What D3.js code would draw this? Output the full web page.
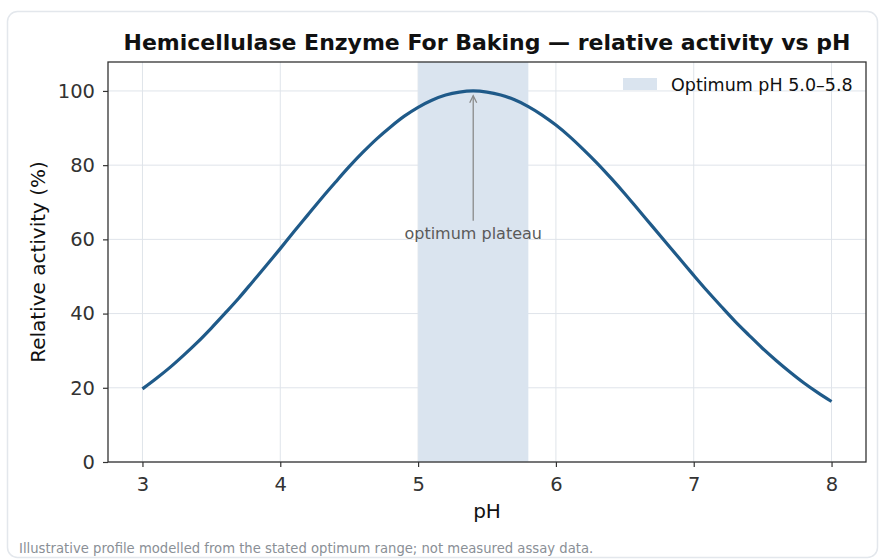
<!DOCTYPE html>
<html lang="en">
<head>
    <meta charset="UTF-8">
    <title>Hemicellulase pH profile</title>
    <script src="https://d3js.org/d3.v7.min.js"></script>
    <style>
        body { margin: 0; background: #ffffff; }
        svg { display: block; font-family: "DejaVu Sans", sans-serif; }
    </style>
</head>
<body>
<svg width="879" height="559"></svg>

<script>
    // pH readings and relative activity (%)
    const phValues = [3.0, 3.1, 3.2, 3.3, 3.4, 3.5, 3.6, 3.7, 3.8, 3.9,
                      4.0, 4.1, 4.2, 4.3, 4.4, 4.5, 4.6, 4.7, 4.8, 4.9,
                      5.0, 5.1, 5.2, 5.3, 5.4, 5.5, 5.6, 5.7, 5.8, 5.9,
                      6.0, 6.1, 6.2, 6.3, 6.4, 6.5, 6.6, 6.7, 6.8, 6.9,
                      7.0, 7.1, 7.2, 7.3, 7.4, 7.5, 7.6, 7.7, 7.8, 7.9, 8.0];
    const activity = [19.7, 22.5, 25.5, 28.8, 32.3, 36.1, 40.1, 44.2, 48.6, 53.0,
                      57.5, 62.1, 66.6, 71.1, 75.4, 79.6, 83.5, 87.1, 90.3, 93.2,
                      95.6, 97.5, 98.9, 99.7, 100.0, 99.7, 98.9, 97.6, 95.8, 93.5,
                      90.8, 87.7, 84.2, 80.5, 76.5, 72.3, 67.9, 63.5, 59.1, 54.7,
                      50.3, 46.0, 41.9, 37.9, 34.2, 30.6, 27.3, 24.2, 21.3, 18.7, 16.3];
    const optimumBand = [5.0, 5.8];
    const peakPH = 5.4;
    const xTicks = [3, 4, 5, 6, 7, 8];
    const yTicks = [0, 20, 40, 60, 80, 100];

    const titleText = "Hemicellulase Enzyme For Baking \u2014 relative activity vs pH";
    const legendText = "Optimum pH 5.0\u20135.8";
    const noteText = "Illustrative profile modelled from the stated optimum range; not measured assay data.";

    const svg = d3.select("svg");
    const plot = {left: 108, right: 866, top: 62, bottom: 462};

    // card
    svg.append("rect")
        .attr("x", 7.5).attr("y", 11.5)
        .attr("width", 870).attr("height", 546)
        .attr("rx", 10)
        .attr("fill", "#ffffff")
        .attr("stroke", "#e3e7ec")
        .attr("stroke-width", 1.5);

    const x = d3.scaleLinear().domain([2.75, 8.25]).range([plot.left, plot.right]);
    const y = d3.scaleLinear().domain([0, 107.8]).range([plot.bottom, plot.top]);

    // grid
    const grid = svg.append("g").attr("stroke", "#dfe4ea").attr("stroke-width", 1);
    grid.selectAll("line.gx").data(xTicks).enter().append("line")
        .attr("x1", d => x(d)).attr("x2", d => x(d))
        .attr("y1", plot.top).attr("y2", plot.bottom);
    grid.selectAll("line.gy").data(yTicks).enter().append("line")
        .attr("x1", plot.left).attr("x2", plot.right)
        .attr("y1", d => y(d)).attr("y2", d => y(d));

    // optimum band
    svg.append("rect")
        .attr("x", x(optimumBand[0]))
        .attr("y", plot.top)
        .attr("width", x(optimumBand[1]) - x(optimumBand[0]))
        .attr("height", plot.bottom - plot.top)
        .attr("fill", "#dae4ef");

    // curve
    const line = d3.line()
        .x((d, i) => x(phValues[i]))
        .y(d => y(d))
        .curve(d3.curveCatmullRom);
    svg.append("path")
        .datum(activity)
        .attr("d", line)
        .attr("fill", "none")
        .attr("stroke", "#1f5a89")
        .attr("stroke-width", 3.2)
        .attr("stroke-linecap", "butt");

    // annotation arrow
    const tipY = y(98.7);
    const ann = svg.append("g").attr("stroke", "#8a8a8a").attr("stroke-width", 1.3).attr("fill", "none");
    ann.append("line")
        .attr("x1", x(peakPH)).attr("x2", x(peakPH))
        .attr("y1", y(65)).attr("y2", tipY);
    ann.append("path")
        .attr("d", `M${x(peakPH) - 3.5},${tipY + 7} L${x(peakPH)},${tipY} L${x(peakPH) + 3.5},${tipY + 7}`);
    svg.append("text")
        .attr("x", x(peakPH)).attr("y", y(60) - 0.5)
        .attr("text-anchor", "middle")
        .attr("font-size", 16)
        .attr("fill", "#5a5a5a")
        .text("optimum plateau");

    // axes
    const xAxis = svg.append("g")
        .attr("transform", `translate(0,${plot.bottom})`)
        .call(d3.axisBottom(x).tickValues(xTicks).tickSize(5).tickPadding(10).tickFormat(d3.format("d")));
    const yAxis = svg.append("g")
        .attr("transform", `translate(${plot.left},0)`)
        .call(d3.axisLeft(y).tickValues(yTicks).tickSize(5).tickPadding(8).tickFormat(d3.format("d")));
    [xAxis, yAxis].forEach(a => {
        a.select(".domain").remove();
        a.selectAll(".tick line").attr("stroke", "#333333").attr("stroke-width", 1.2);
        a.selectAll(".tick text")
            .attr("font-family", "DejaVu Sans, sans-serif")
            .attr("font-size", 19.5)
            .attr("fill", "#333333");
    });

    // frame
    svg.append("rect")
        .attr("x", plot.left).attr("y", plot.top)
        .attr("width", plot.right - plot.left).attr("height", plot.bottom - plot.top)
        .attr("fill", "none")
        .attr("stroke", "#333333")
        .attr("stroke-width", 1.3);

    // legend
    svg.append("rect")
        .attr("x", 623).attr("y", 78)
        .attr("width", 34).attr("height", 12)
        .attr("fill", "#dae4ef");
    svg.append("text")
        .attr("x", 671).attr("y", 91)
        .attr("font-size", 17.5)
        .attr("fill", "#111111")
        .text(legendText);

    // labels
    svg.append("text")
        .attr("x", (plot.left + plot.right) / 2).attr("y", 50)
        .attr("text-anchor", "middle")
        .attr("font-size", 22)
        .attr("font-weight", "bold")
        .attr("fill", "#111111")
        .text(titleText);
    svg.append("text")
        .attr("x", (plot.left + plot.right) / 2).attr("y", 518)
        .attr("text-anchor", "middle")
        .attr("font-size", 20)
        .attr("fill", "#111111")
        .text("pH");
    svg.append("text")
        .attr("transform", `translate(45,${(plot.top + plot.bottom) / 2}) rotate(-90)`)
        .attr("text-anchor", "middle")
        .attr("font-size", 20)
        .attr("fill", "#111111")
        .text("Relative activity (%)");

    svg.append("text")
        .attr("x", 19).attr("y", 553)
        .attr("font-size", 13.2)
        .attr("fill", "#8a8f96")
        .text(noteText);
</script>
</body>
</html>
